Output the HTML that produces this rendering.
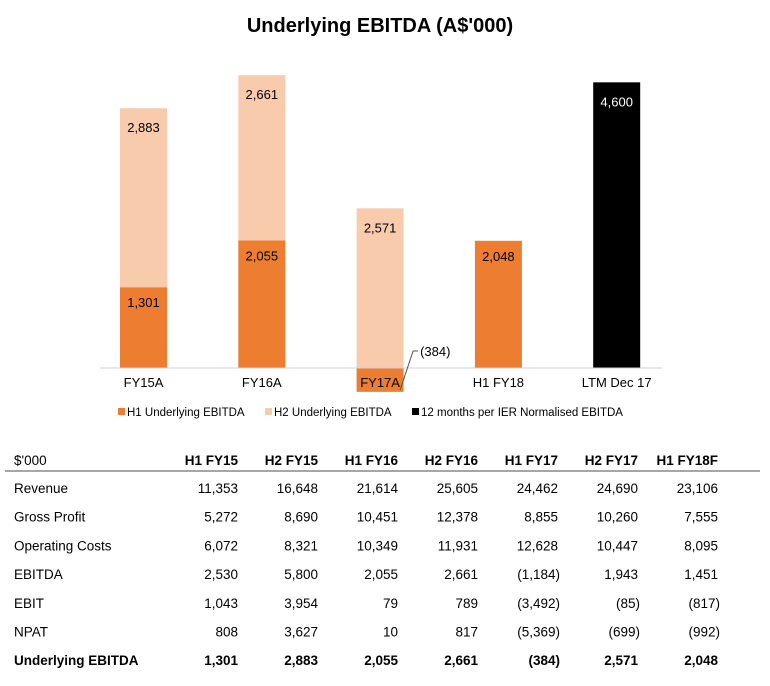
<!DOCTYPE html>
<html><head><meta charset="utf-8"><style>
body{margin:0;width:770px;height:681px;background:#fff;font-family:"Liberation Sans",sans-serif;overflow:hidden}
svg text{font-family:"Liberation Sans",sans-serif}
</style></head><body>
<svg width="770" height="681" id="chart">
<text x="380" y="32" text-anchor="middle" font-size="20" font-weight="bold" fill="#000">Underlying EBITDA (A$'000)</text>
<g id="bars"></g>
<line x1="100" y1="368" x2="662" y2="368" stroke="#d0d0d0"/>
<g id="labels"></g>
<g font-size="11.5">
<rect x="118" y="408" width="7" height="7" fill="#ed7d31"/>
<text x="127" y="416">H1 Underlying EBITDA</text>
<rect x="265" y="408" width="7" height="7" fill="#f8cbad"/>
<text x="274" y="416">H2 Underlying EBITDA</text>
<rect x="412" y="408" width="7" height="7" fill="#000"/>
<text x="421" y="416">12 months per IER Normalised EBITDA</text>
</g>
<g id="table"></g>
</svg>
<script>
const categories=["FY15A","FY16A","FY17A","H1 FY18","LTM Dec 17"];
const h1Values=[1301,2055,-384,2048,null];
const h2Values=[2883,2661,2571,null,null];
const ierValues=[null,null,null,null,4600];
const rowLabels=["Revenue","Gross Profit","Operating Costs","EBITDA","EBIT","NPAT","Underlying EBITDA"];
const colLabels=["H1 FY15","H2 FY15","H1 FY16","H2 FY16","H1 FY17","H2 FY17","H1 FY18F"];
const tableValues=[
["11,353","16,648","21,614","25,605","24,462","24,690","23,106"],
["5,272","8,690","10,451","12,378","8,855","10,260","7,555"],
["6,072","8,321","10,349","11,931","12,628","10,447","8,095"],
["2,530","5,800","2,055","2,661","(1,184)","1,943","1,451"],
["1,043","3,954","79","789","(3,492)","(85)","(817)"],
["808","3,627","10","817","(5,369)","(699)","(992)"],
["1,301","2,883","2,055","2,661","(384)","2,571","2,048"]];
const NS="http://www.w3.org/2000/svg";
const base=368,scale=0.0621;
const y=v=>base-v*scale;
const xc=i=>143.5+i*118.3;
const bw=47;
function el(t,a,p){const e=document.createElementNS(NS,t);for(const k in a)e.setAttribute(k,a[k]);p.appendChild(e);return e;}
const fmt=v=>v<0?"("+Math.abs(v).toLocaleString("en-US")+")":v.toLocaleString("en-US");
const bars=document.getElementById("bars"),labels=document.getElementById("labels");
categories.forEach((c,i)=>{
  const x=xc(i)-bw/2;
  const h1=h1Values[i],h2=h2Values[i],ier=ierValues[i];
  if(h1!=null){
    const top=Math.min(y(h1),base),h=Math.abs(y(h1)-base);
    const r=el("rect",{x:x,y:top,width:bw,height:h,fill:"#ed7d31"},bars);
    
    
    if(h1>=0){
      const t=el("text",{x:xc(i),y:top+20,"text-anchor":"middle","font-size":13},labels);t.textContent=fmt(h1);
      
      
    }else{
      const l=el("polyline",{points:(xc(i)+20)+","+(base+22)+" "+(xc(i)+33)+","+(base-17)+" "+(xc(i)+38)+","+(base-17),fill:"none",stroke:"#555"},labels);
      
      
      const t=el("text",{x:xc(i)+40,y:base-12,"font-size":13},labels);t.textContent=fmt(h1);
      
      
    }
  }
  if(h2!=null){
    const start=(h1!=null&&h1>0)?h1:0;
    const r=el("rect",{x:x,y:y(start+h2),width:bw,height:h2*scale,fill:"#f8cbad"},bars);
    
    
    const t=el("text",{x:xc(i),y:y(start+h2)+24,"text-anchor":"middle","font-size":13},labels);t.textContent=fmt(h2);
    
    
  }
  if(ier!=null){
    const r=el("rect",{x:x,y:y(ier),width:bw,height:ier*scale,fill:"#000"},bars);
    
    
    const t=el("text",{x:xc(i),y:y(ier)+24,"text-anchor":"middle","font-size":13,fill:"#fff"},labels);t.textContent=fmt(ier);
    
    
  }
  const t=el("text",{x:xc(i),y:387,"text-anchor":"middle","font-size":13},labels);t.textContent=c;
  
  
});
const tb=document.getElementById("table");
const colX=i=>238+i*80;
let h=el("text",{x:14,y:465,"font-size":13.5},tb);h.textContent="$'000";


colLabels.forEach((c,i)=>{const t=el("text",{x:colX(i),y:465,"text-anchor":"end","font-size":13.5,"font-weight":"bold"},tb);t.textContent=c;

});
const ln=el("line",{x1:5,y1:471,x2:760,y2:471,stroke:"#888","stroke-width":1.5},tb);


rowLabels.forEach((r,j)=>{
  const yy=493+j*28.7,bold=j==rowLabels.length-1;
  const t=el("text",{x:14,y:yy,"font-size":13.5,"font-weight":bold?"bold":"normal"},tb);t.textContent=r;
  
  
  tableValues[j].forEach((v,i)=>{
    const neg=v.startsWith("(");
    const c=el("text",{x:colX(i)+(neg?2:0),y:yy,"text-anchor":"end","font-size":13.5,"font-weight":bold?"bold":"normal"},tb);c.textContent=v;
    
    
  });
});
</script>
</body></html>
